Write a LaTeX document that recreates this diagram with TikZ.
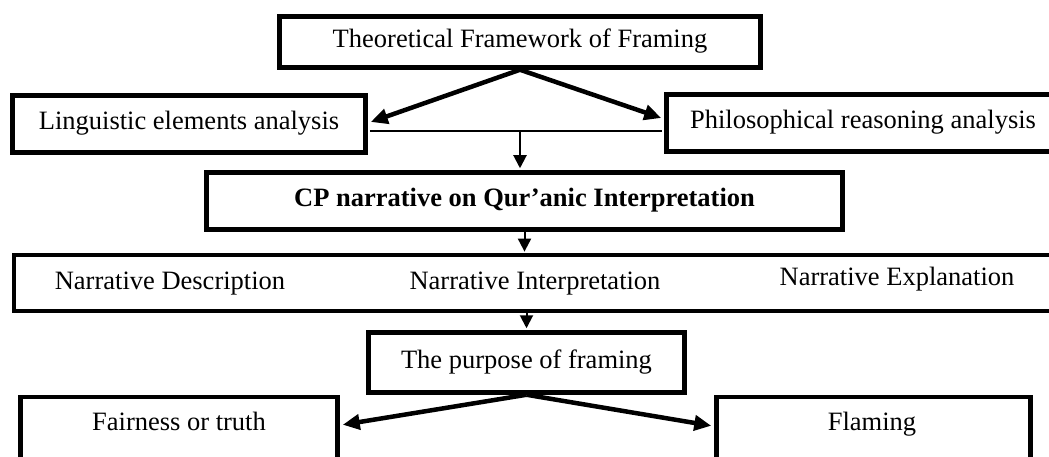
\documentclass[tikz,border=0pt]{standalone}
\usepackage{fontspec}
\setmainfont{Liberation Serif}
\usetikzlibrary{arrows.meta,calc}
\begin{document}
\begin{tikzpicture}[x=1pt,y=-1pt,
  txt/.style={font=\fontsize{26.5}{30}\selectfont,text height=18pt,text depth=6pt},
  box/.style={draw,line width=4.5pt,rectangle,inner sep=0pt,txt},
  lbl/.style={inner sep=0pt,txt},
  bigarrow/.style={line width=4.5pt,-{Triangle[length=17pt,width=15pt]}},
  smallarrow/.style={line width=2pt,-{Triangle[length=13pt,width=13pt]}}]
\useasboundingbox (0,0) rectangle (1049,457);
\clip (0,0) rectangle (1049,457);
\fill[white] (0,0) rectangle (1049,457);

\node[box,minimum width=481pt,minimum height=51pt] (tf) at (520,42) {Theoretical Framework of Framing};
\node[box,minimum width=353pt,minimum height=57pt] (ling) at (189,124) {Linguistic elements analysis};
\node[box,minimum width=393pt,minimum height=57pt] (phil) at (863,123) {Philosophical reasoning analysis};
\node[box,minimum width=636pt,minimum height=57pt,font=\fontsize{26.5}{30}\selectfont\bfseries] (cp) at (524.5,201) {CP narrative on Qur’anic Interpretation};
\node[box,line width=3.8pt,minimum width=1044pt,minimum height=56pt] (wide) at (536,283) {};
\node[lbl] (nd) at (170,283) {Narrative Description};
\node[lbl] (ni) at (535,283) {Narrative Interpretation};
\node[lbl] (ne) at (897,279) {Narrative Explanation};
\node[box,minimum width=316pt,minimum height=60pt] (purp) at (526.5,362.5) {The purpose of framing};
\node[box,minimum width=317pt,minimum height=86pt] (fair) at (179,440) {};
\node[lbl] (fairt) at (179,424) {Fairness or truth};
\node[box,minimum width=314pt,minimum height=86pt] (flam) at (873.5,440) {};
\node[lbl] (flamt) at (872,424) {Flaming};

\draw[bigarrow] (tf.south) -- ($(ling.east)+(3,-2)$);
\draw[bigarrow] (tf.south) -- ($(phil.west)+(-3,-5)$);
\draw[line width=1.7pt] ($(ling.east)+(2,7)$) -- ($(phil.west)+(-2,8)$);
\coordinate (j) at (520,131);
\draw[smallarrow,shorten >=2pt] (j) -- (j |- cp.north);
\draw[smallarrow,shorten >=1.5pt] (cp.south) -- (wide.north -| cp.south);
\draw[smallarrow,shorten >=2pt] (wide.south -| purp.north) -- (purp.north);
\draw[bigarrow] (purp.south) -- ($(fair.north east)+(3,30)$);
\draw[bigarrow] (purp.south) -- ($(flam.north west)+(-3,31)$);
\end{tikzpicture}
\end{document}
